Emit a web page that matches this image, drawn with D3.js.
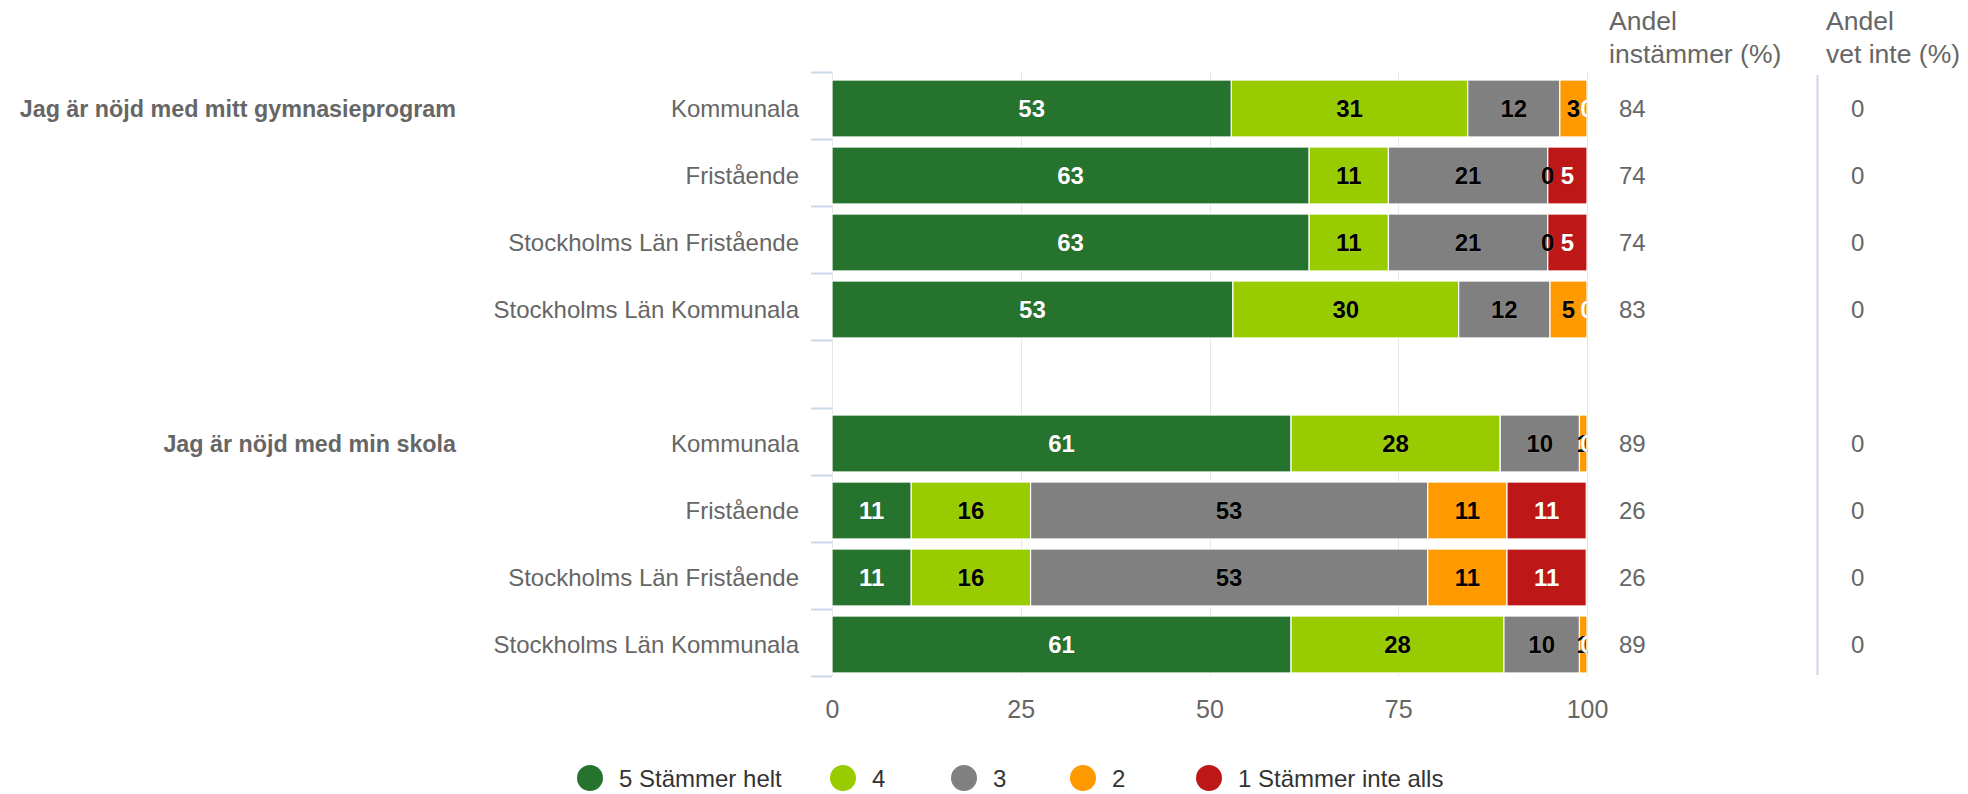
<!DOCTYPE html>
<html>
<head>
<meta charset="utf-8">
<script src="https://cdn.jsdelivr.net/npm/d3@7"></script>
<style>
  html, body { margin: 0; padding: 0; background: #fff; }
  svg { display: block; font-family: "Liberation Sans", Arial, Helvetica, sans-serif; }
</style>
</head>
<body>
<svg id="chart" width="1968" height="794"></svg>
<script>
// ---------------- DATA ----------------
const rowIds = ["g1-k", "g1-f", "g1-slf", "g1-slk", "gap", "g2-k", "g2-f", "g2-slf", "g2-slk"];
const categories = ["Kommunala", "Fristående", "Stockholms Län Fristående", "Stockholms Län Kommunala", "",
                    "Kommunala", "Fristående", "Stockholms Län Fristående", "Stockholms Län Kommunala"];
const groupLabels = ["Jag är nöjd med mitt gymnasieprogram", "Jag är nöjd med min skola"];
const groupFirstRow = ["g1-k", "g2-k"];

const seriesNames = ["5 Stämmer helt", "4", "3", "2", "1 Stämmer inte alls"];
const seriesColors = ["#26732e", "#99cc00", "#808080", "#ff9900", "#be1717"];
const labelColors = ["#ffffff", "#000000", "#000000", "#000000", "#ffffff"];

// bar lengths (percent)
const s5 = [52.9, 63.2, 63.2, 53.1, null, 60.8, 10.5, 10.5, 60.8];
const s4 = [31.3, 10.5, 10.5, 29.9, null, 27.7, 15.8, 15.8, 28.2];
const s3 = [12.2, 21.1, 21.1, 12.1, null, 10.5, 52.6, 52.6, 10.0];
const s2 = [3.6, 0, 0, 4.9, null, 1.0, 10.5, 10.5, 1.0];
const s1 = [0, 5.3, 5.3, 0, null, 0, 10.5, 10.5, 0];

// data labels as printed
const l5 = [53, 63, 63, 53, null, 61, 11, 11, 61];
const l4 = [31, 11, 11, 30, null, 28, 16, 16, 28];
const l3 = [12, 21, 21, 12, null, 10, 53, 53, 10];
const l2 = [3, 0, 0, 5, null, 1, 11, 11, 1];
const l1 = [0, 5, 5, 0, null, 0, 11, 11, 0];

const andelInstammer = [84, 74, 74, 83, null, 89, 26, 26, 89];
const andelVetInte = [0, 0, 0, 0, null, 0, 0, 0, 0];

const xTicks = [0, 25, 50, 75, 100];
const colHeaders = [["Andel", "instämmer (%)"], ["Andel", "vet inte (%)"]];

// ---------------- LAYOUT ----------------
const plot = { left: 832, right: 1587, top: 72, bottom: 676 };
const svg = d3.select("#chart");

const x = d3.scaleLinear().domain([0, 100]).range([plot.left, plot.right]);
const yBand = d3.scaleBand().domain(rowIds).range([plot.top, plot.bottom]).padding(0);
const y = d3.scaleBand().domain(rowIds).range([plot.top + 3, plot.bottom + 2])
  .paddingInner(0.15).paddingOuter(0.075);

const seriesVals = [s5, s4, s3, s2, s1];
const seriesLabels = [l5, l4, l3, l2, l1];

// gridlines
svg.append("g").selectAll("line").data(xTicks).join("line")
  .attr("x1", d => Math.round(x(d)) + 0.5).attr("x2", d => Math.round(x(d)) + 0.5)
  .attr("y1", plot.top).attr("y2", plot.bottom)
  .attr("stroke", "#e6e6e6").attr("stroke-width", 1);

// y-axis tick marks at band boundaries
const boundaries = rowIds.map(r => yBand(r)).concat([plot.bottom]);
svg.append("g").selectAll("line").data(boundaries).join("line")
  .attr("x1", plot.left - 21).attr("x2", plot.left)
  .attr("y1", d => Math.round(d) + 0.5).attr("y2", d => Math.round(d) + 0.5)
  .attr("stroke", "#ccd6eb").attr("stroke-width", 2);

// category labels
svg.append("g").selectAll("text").data(rowIds.filter((r, i) => categories[i] !== "")).join("text")
  .attr("x", 799)
  .attr("y", r => y(r) + y.bandwidth() / 2)
  .attr("text-anchor", "end").attr("dominant-baseline", "central")
  .attr("font-size", 24).attr("fill", "#666666")
  .text(r => categories[rowIds.indexOf(r)]);

// group labels
svg.append("g").selectAll("text").data(groupLabels).join("text")
  .attr("x", 456)
  .attr("y", (d, i) => y(groupFirstRow[i]) + y.bandwidth() / 2)
  .attr("text-anchor", "end").attr("dominant-baseline", "central")
  .attr("font-size", 23.3).attr("font-weight", "bold").attr("fill", "#666666")
  .text(d => d);

// stacked bars
const stacked = [];
rowIds.forEach((r, i) => {
  let acc = 0;
  seriesVals.forEach((sv, si) => {
    const v = sv[i];
    if (v === null) return;
    stacked.push({ row: r, si, x0: acc, x1: acc + v, label: seriesLabels[si][i] });
    acc += v;
  });
});

svg.append("defs").append("clipPath").attr("id", "plotclip")
  .append("rect").attr("x", plot.left).attr("y", plot.top - 5)
  .attr("width", plot.right - plot.left + 0.5).attr("height", plot.bottom - plot.top + 10);

const barsG = svg.append("g").attr("clip-path", "url(#plotclip)");
barsG.selectAll("rect").data(stacked.filter(d => d.x1 > d.x0)).join("rect")
  .attr("x", d => x(d.x0))
  .attr("width", d => Math.max(0, x(Math.min(100, d.x1)) - x(d.x0)))
  .attr("y", d => y(d.row))
  .attr("height", y.bandwidth())
  .attr("fill", d => seriesColors[d.si])
  .attr("stroke", "#ffffff").attr("stroke-width", 1.2);

// data labels
const labelsG = svg.append("g").attr("clip-path", "url(#plotclip)");
labelsG.selectAll("text").data(stacked).join("text")
  .attr("x", d => x((d.x0 + Math.min(100, d.x1)) / 2))
  .attr("y", d => y(d.row) + y.bandwidth() / 2)
  .attr("text-anchor", "middle").attr("dominant-baseline", "central")
  .attr("font-size", 24).attr("font-weight", "bold")
  .attr("fill", d => labelColors[d.si])
  .attr("stroke", d => labelColors[d.si] === "#ffffff" ? "#000000" : "#ffffff")
  .attr("stroke-width", 0.6).attr("stroke-opacity", 0.35)
  .attr("paint-order", "stroke")
  .text(d => d.label);

// x axis labels
const xAxis = d3.axisBottom(x).tickValues(xTicks).tickSize(0).tickPadding(0);
const xg = svg.append("g").attr("transform", `translate(0, ${plot.bottom + 33})`).call(xAxis);
xg.select(".domain").remove();
xg.selectAll("text").attr("font-size", 25).attr("fill", "#666666")
  .attr("font-family", "Liberation Sans, Arial, sans-serif")
  .attr("dy", "0.35em").attr("y", 0);

// right columns
const colX = [1609, 1826];
const valX = [1619, 1851];
colHeaders.forEach((lines, ci) => {
  const t = svg.append("text").attr("font-size", 26.5).attr("fill", "#666666");
  lines.forEach((ln, li) => {
    t.append("tspan").attr("x", colX[ci]).attr("y", 30 + li * 33).text(ln);
  });
});
[andelInstammer, andelVetInte].forEach((vals, ci) => {
  svg.append("g").selectAll("text").data(rowIds.filter((r, i) => vals[i] !== null)).join("text")
    .attr("x", valX[ci])
    .attr("y", r => y(r) + y.bandwidth() / 2)
    .attr("dominant-baseline", "central")
    .attr("font-size", 24).attr("fill", "#666666")
    .text(r => vals[rowIds.indexOf(r)]);
});
// separator
svg.append("line").attr("x1", 1817.5).attr("x2", 1817.5).attr("y1", 75).attr("y2", 675)
  .attr("stroke", "#ccd6eb").attr("stroke-width", 2);

// legend (item positions follow the reference layout)
const legendX = [590, 843, 964, 1083, 1209];
const legend = svg.append("g");
seriesNames.forEach((name, i) => {
  const g = legend.append("g");
  g.append("circle").attr("cx", legendX[i]).attr("cy", 778).attr("r", 13).attr("fill", seriesColors[i]);
  g.append("text").attr("x", legendX[i] + 29).attr("y", 778)
    .attr("dominant-baseline", "central")
    .attr("font-size", 24).attr("fill", "#333333").text(name);
});
</script>
</body>
</html>
